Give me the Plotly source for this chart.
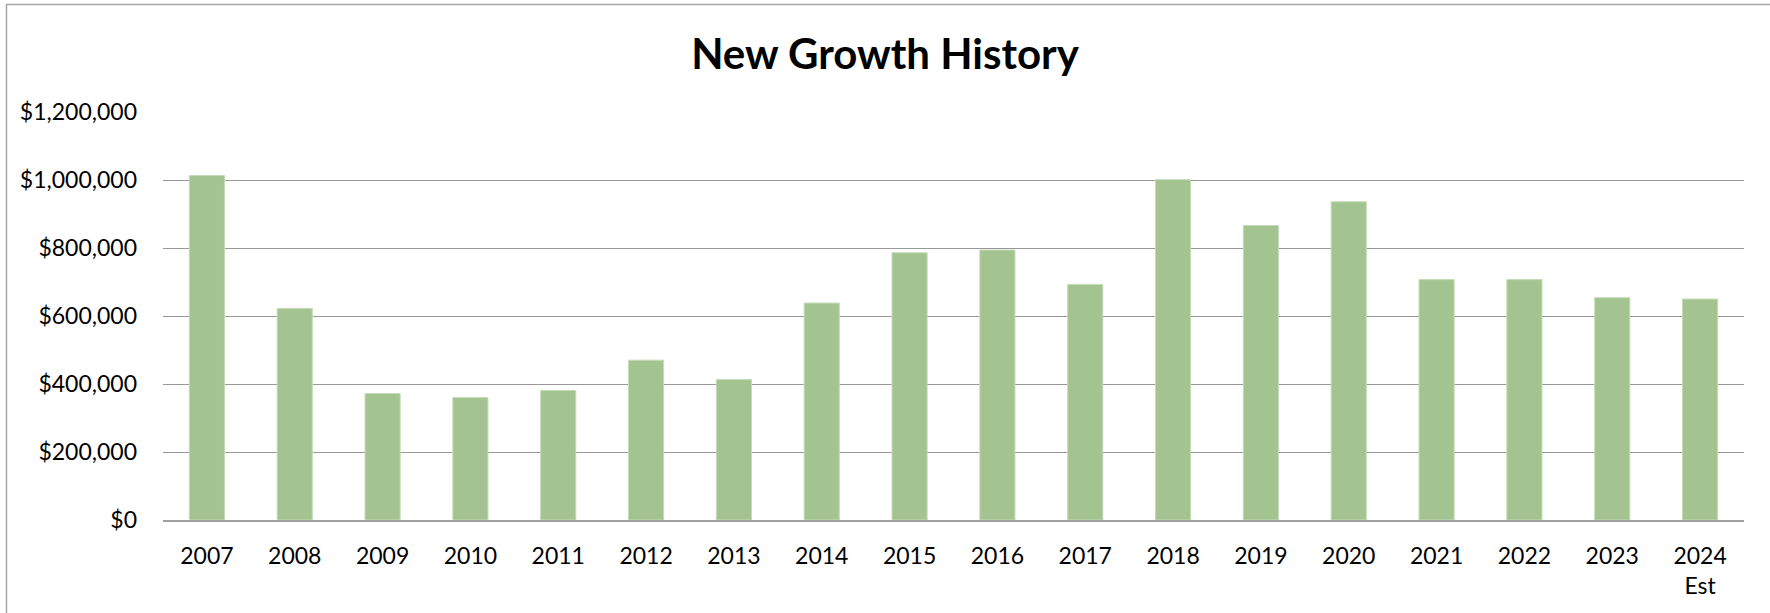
import plotly.graph_objects as go

years = ["2007", "2008", "2009", "2010", "2011", "2012", "2013", "2014", "2015",
         "2016", "2017", "2018", "2019", "2020", "2021", "2022", "2023", "2024<br>Est"]
new_growth = [1013000, 622000, 372000, 360000, 381000, 470000, 413000, 638000, 786000,
              794000, 693000, 1001000, 866000, 936000, 707000, 707000, 654000, 650000]
y_ticks = [0, 200000, 400000, 600000, 800000, 1000000, 1200000]
y_tick_text = ["$0", "$200,000", "$400,000", "$600,000", "$800,000", "$1,000,000", "$1,200,000"]

W, H = 1770, 613
ML, MR, MT, MB = 163, 26, 112, 93
PW, PH = W - ML - MR, H - MT - MB


def px_x(x):
    return (x - ML) / PW


def px_y(y):
    return (H - MB - y) / PH


fig = go.Figure()
fig.add_trace(go.Bar(
    x=years, y=new_growth,
    marker=dict(color="#A3C490", line=dict(color="#C4DBB6", width=1)),
    hoverinfo="x+y",
))

fig.update_layout(
    width=W, height=H,
    margin=dict(l=ML, r=MR, t=MT, b=MB),
    paper_bgcolor="white", plot_bgcolor="white",
    bargap=0.6,
    showlegend=False,
    font=dict(family="Lato, Carlito, sans-serif", color="#000000"),
    title=dict(text="<b>New Growth History</b>", x=0.5, xanchor="center",
               xref="container", yref="container", y=1 - 54 / H, yanchor="middle",
               font=dict(family="Lato, sans-serif", size=42, color="#000000")),
    xaxis=dict(type="category", showgrid=False, showline=True, linecolor="#A0A0A0",
               linewidth=1.5, ticks="", tickfont=dict(size=23), ticklabelstandoff=15),
    yaxis=dict(range=[0, 1200000], tickvals=y_ticks, ticktext=y_tick_text,
               showgrid=True, gridcolor="#999999", gridwidth=1.4, zeroline=False,
               showline=False, ticks="", tickfont=dict(size=23), ticklabelstandoff=25),
    shapes=[
        dict(type="line", xref="paper", yref="paper", x0=px_x(6.5), x1=px_x(6.5),
             y0=px_y(4), y1=px_y(H + 5), line=dict(color="#A6A6A6", width=1.5)),
        dict(type="line", xref="paper", yref="paper", x0=px_x(6), x1=px_x(W + 5),
             y0=px_y(4.5), y1=px_y(4.5), line=dict(color="#A6A6A6", width=1.5)),
    ],
)

fig.write_html("out.html")
